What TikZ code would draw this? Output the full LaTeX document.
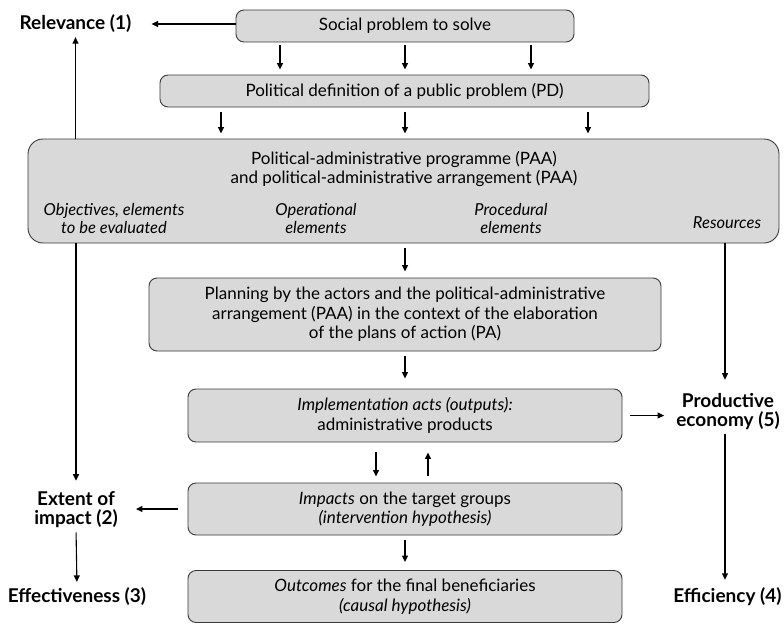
\documentclass[tikz,border=0pt]{standalone}
\usepackage{fontspec}
\setmainfont{Lato}
\usetikzlibrary{arrows.meta,calc}
\definecolor{boxfill}{HTML}{D9D9D9}
\definecolor{boxline}{HTML}{3A3A3A}
\begin{document}
\begin{tikzpicture}[x=1pt,y=-1pt,
  font=\fontsize{17}{19.5}\selectfont,
  box/.style={draw=boxline,fill=boxfill,line width=0.9pt,rounded corners=8pt,align=center,inner sep=0pt},
  txt/.style={align=center,inner sep=0pt},
  sub/.style={align=center,inner sep=0pt,font=\fontsize{16.5}{17.5}\selectfont\itshape},
  crit/.style={align=center,inner sep=0pt,font=\fontsize{19}{19}\selectfont\bfseries},
  arr/.style={line width=1.1pt,-{Triangle[length=6.5pt,width=6pt]}},
  ]
\useasboundingbox (0,0) rectangle (784,624);

% column positions of the vertical connectors
\coordinate (ca) at (280,0);
\coordinate (cb) at (531,0);
\coordinate (cc) at (221,0);
\coordinate (cd) at (588,0);
\coordinate (cm) at (405,0);
\coordinate (cu) at (376,0);
\coordinate (cv) at (428,0);
\coordinate (cr) at (725,0);

% process boxes
\node[box,minimum width=338pt,minimum height=32pt] (social) at (405,26) {Social problem to solve};
\node[box,minimum width=489pt,minimum height=32pt] (pd) at (404.5,91) {Political definition of a public problem (PD)};
\node[box,rounded corners=15pt,minimum width=751pt,minimum height=104pt] (paa) at (403.5,191) {};
\node[txt] (paatitle) at (404,169) {Political-administrative programme (PAA)\\and political-administrative arrangement (PAA)};
\node[sub] (obj) at (114,218.5) {Objectives, elements\\to be evaluated};
\node[sub] (oper) at (316,218.5) {Operational\\elements};
\node[sub] (proc) at (511,218.5) {Procedural\\elements};
\node[sub] (res) at (727,223) {Resources};
\node[box,minimum width=512pt,minimum height=73pt] (plan) at (405,314.5) {Planning by the actors and the political-administrative\\arrangement (PAA) in the context of the elaboration\\of the plans of action (PA)};
\node[box,minimum width=434pt,minimum height=53pt] (impl) at (405,415.5) {\textit{Implementation acts (outputs):}\\administrative products};
\node[box,minimum width=434pt,minimum height=52pt] (impacts) at (405,509) {\textit{Impacts} on the target groups\\\textit{(intervention hypothesis)}};
\node[box,minimum width=434pt,minimum height=52pt] (outcomes) at (405,596.5) {\textit{Outcomes} for the final beneficiaries\\\textit{(causal hypothesis)}};

% evaluation criteria
\node[crit] (rel) at (75.5,24) {Relevance (1)};
\node[crit] (ext) at (76,510) {Extent of\\impact (2)};
\node[crit] (eff) at (77,597) {Effectiveness (3)};
\node[crit] (prod) at (728,412) {Productive\\economy (5)};
\node[crit] (effi) at (727.5,597) {Efficiency (4)};

% flow between the boxes
\draw[arr,shorten <=3pt,shorten >=5pt] (social.south -| ca) -- (pd.north -| ca);
\draw[arr,shorten <=3pt,shorten >=5pt] (social.south -| cm) -- (pd.north -| cm);
\draw[arr,shorten <=3pt,shorten >=5pt] (social.south -| cb) -- (pd.north -| cb);
\draw[arr,shorten <=5pt,shorten >=5pt] (pd.south -| cc) -- (paa.north -| cc);
\draw[arr,shorten <=5pt,shorten >=5pt] (pd.south -| cm) -- (paa.north -| cm);
\draw[arr,shorten <=5pt,shorten >=5pt] (pd.south -| cd) -- (paa.north -| cd);
\draw[arr,shorten <=5pt,shorten >=6pt] (paa.south -| cm) -- (plan.north -| cm);
\draw[arr,shorten <=5pt,shorten >=10pt] (plan.south -| cm) -- (impl.north -| cm);
\draw[arr,shorten <=10pt,shorten >=6pt] (impl.south -| cu) -- (impacts.north -| cu);
\draw[arr,shorten <=7pt,shorten >=10pt] (impacts.north -| cv) -- (impl.south -| cv);
\draw[arr,shorten <=5pt,shorten >=8pt] (impacts.south -| cm) -- (outcomes.north -| cm);

% links to the criteria
\draw[arr,shorten >=20pt] (rel.east -| social.west) -- (rel.east);
\draw[arr,shorten >=4pt] (paa.north -| rel.south) -- (rel.south);
\draw[arr,shorten >=11pt] (paa.south -| ext.north) -- (ext.north);
\draw[arr,shorten <=4pt,shorten >=6pt] (ext.south) -- (eff.north);
\draw[arr,shorten <=10pt,shorten >=18pt] (impacts.west) -- (ext.east |- impacts.west);
\draw[arr,shorten <=8pt,shorten >=12pt] (impl.east) -- (prod.west |- impl.east);
\draw[arr,shorten >=14pt] (paa.south -| cr) -- (prod.north -| cr);
\draw[arr,shorten <=4pt,shorten >=8pt] (prod.south -| cr) -- (effi.north -| cr);
\end{tikzpicture}
\end{document}
